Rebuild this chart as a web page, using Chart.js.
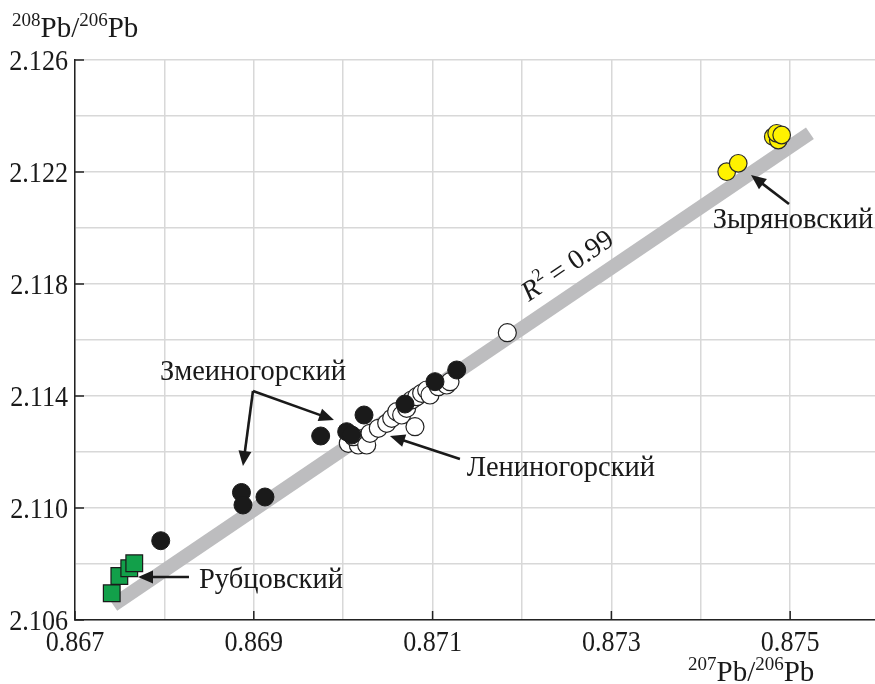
<!DOCTYPE html>
<html lang="ru">
<head>
<meta charset="utf-8">
<title>208Pb/206Pb - 207Pb/206Pb</title>
<script src="https://cdn.jsdelivr.net/npm/chart.js@4.4.1/dist/chart.umd.min.js"></script>
<style>
    body { margin: 0; background: #fff; }
    canvas { display: block; }
</style>
</head>
<body>
<canvas id="grafico" width="875" height="684"></canvas>
<script>
// Datos (x = 207Pb/206Pb, y = 208Pb/206Pb)
const rubtsovskX = [0.867411, 0.867496, 0.867607, 0.867663];
const rubtsovskY = [2.106954, 2.107571, 2.107846, 2.108025];

const zmeinogorskX = [0.867959, 0.868862, 0.868879, 0.869125, 0.869748, 0.870039, 0.870095, 0.870233, 0.870691, 0.871027, 0.871270];
const zmeinogorskY = [2.108832, 2.110554, 2.110107, 2.110393, 2.112571, 2.112725, 2.112607, 2.113321, 2.113714, 2.114511, 2.114929];

const leninogorskX = [0.870057, 0.870169, 0.870225, 0.870113, 0.870263, 0.870300, 0.870393, 0.870487, 0.870543, 0.870598, 0.870654,
    0.870710, 0.870766, 0.870822, 0.870803, 0.870878, 0.870934, 0.870971, 0.871064, 0.871158, 0.871195, 0.871836];
const leninogorskY = [2.112311, 2.112250, 2.112489, 2.112546, 2.112250, 2.112668, 2.112846, 2.113025, 2.113204, 2.113439, 2.113321,
    2.113561, 2.113857, 2.113975, 2.112904, 2.114096, 2.114214, 2.114036, 2.114332, 2.114393, 2.114511, 2.116261];

const zyryanovskX = [0.874290, 0.874419, 0.874811, 0.874867, 0.874849, 0.874905];
const zyryanovskY = [2.122011, 2.122311, 2.123261, 2.123143, 2.123382, 2.123321];

// linea de regresion (extremos)
const trendX = [0.867428, 0.875221];
const trendY = [2.106536, 2.123382];

// ejes
const xGrid = [0.867, 0.868, 0.869, 0.870, 0.871, 0.872, 0.873, 0.874, 0.875];
const yGrid = [2.106, 2.108, 2.110, 2.112, 2.114, 2.116, 2.118, 2.120, 2.122, 2.124, 2.126];
const xLabels = ["0.867", "0.869", "0.871", "0.873", "0.875"];
const yLabels = ["2.106", "2.110", "2.114", "2.118", "2.122", "2.126"];

// etiquetas de los yacimientos, con flecha (coordenadas en unidades de datos)
const notas = [
    { texto: "Зыряновский", x: 0.875031, y: 2.120357, flechas: [[0.874987, 2.120857, 0.874562, 2.121893]] },
    { texto: "Змеиногорский", x: 0.868991, y: 2.114929, flechas: [[0.868991, 2.114179, 0.868879, 2.111500], [0.868991, 2.114179, 0.869897, 2.113143]] },
    { texto: "Лениногорский", x: 0.872436, y: 2.111500, flechas: [[0.871306, 2.111750, 0.870523, 2.112571]] },
    { texto: "Рубцовский", x: 0.869192, y: 2.107500, flechas: [[0.868275, 2.107536, 0.867705, 2.107536]] }
];
const r2 = { x: 0.872500, y: 2.118700, valor: "0.99" };

const SERIF = '"Liberation Serif", "Times New Roman", serif';

function puntos(xs, ys) {
    return xs.map((x, i) => ({ x: x, y: ys[i] }));
}

function texto(ctx, str, x, y, size, align, sx, estilo) {
    ctx.save();
    ctx.font = (estilo || '') + ' ' + size + 'px ' + SERIF;
    ctx.textAlign = align;
    ctx.textBaseline = 'alphabetic';
    ctx.translate(x, y);
    ctx.scale(sx, 1);
    ctx.fillText(str, 0, 0);
    ctx.restore();
}

function flecha(ctx, x1, y1, x2, y2) {
    const ang = Math.atan2(y2 - y1, x2 - x1);
    const largo = 15, ancho = 6.5;
    ctx.save();
    ctx.strokeStyle = '#1a1a1a';
    ctx.fillStyle = '#1a1a1a';
    ctx.lineWidth = 2.6;
    ctx.beginPath();
    ctx.moveTo(x1, y1);
    ctx.lineTo(x2 - Math.cos(ang) * (largo - 2), y2 - Math.sin(ang) * (largo - 2));
    ctx.stroke();
    ctx.beginPath();
    ctx.moveTo(x2, y2);
    ctx.lineTo(x2 - Math.cos(ang) * largo - Math.sin(ang) * ancho, y2 - Math.sin(ang) * largo + Math.cos(ang) * ancho);
    ctx.lineTo(x2 - Math.cos(ang) * largo + Math.sin(ang) * ancho, y2 - Math.sin(ang) * largo - Math.cos(ang) * ancho);
    ctx.closePath();
    ctx.fill();
    ctx.restore();
}

// Plugin para marcas internas, etiquetas de ejes y anotaciones
const decoracion = {
    id: 'decoracion',
    afterDatasetsDraw(chart) {
        const ctx = chart.ctx;
        const sx = chart.scales.x, sy = chart.scales.y;
        const area = chart.chartArea;
        ctx.save();
        ctx.fillStyle = '#1a1a1a';

        // marcas hacia adentro
        ctx.strokeStyle = '#222';
        ctx.lineWidth = 1.5;
        xLabels.forEach(l => {
            const px = sx.getPixelForValue(Number(l));
            ctx.beginPath();
            ctx.moveTo(px, area.bottom);
            ctx.lineTo(px, area.bottom - 9);
            ctx.stroke();
        });
        yLabels.forEach(l => {
            const py = sy.getPixelForValue(Number(l));
            ctx.beginPath();
            ctx.moveTo(area.left, py);
            ctx.lineTo(area.left + 9, py);
            ctx.stroke();
        });

        // numeros de los ejes
        xLabels.forEach(l => {
            texto(ctx, l, sx.getPixelForValue(Number(l)), area.bottom + 31, 29, 'center', 0.9);
        });
        yLabels.forEach(l => {
            texto(ctx, l, area.left - 7, sy.getPixelForValue(Number(l)) + 10, 29, 'right', 0.9);
        });

        // titulos de ejes con superindices
        const titulo = (partes, x0, base) => {
            let x = x0;
            partes.forEach(p => {
                ctx.font = p.size + 'px ' + SERIF;
                ctx.textAlign = 'left';
                ctx.fillText(p.t, x, base + p.dy);
                x += ctx.measureText(p.t).width;
            });
        };
        titulo([{ t: '208', size: 19, dy: -11 }, { t: 'Pb/', size: 29, dy: 0 }, { t: '206', size: 19, dy: -11 }, { t: 'Pb', size: 29, dy: 0 }], 12, 37);
        titulo([{ t: '207', size: 19, dy: -11 }, { t: 'Pb/', size: 29, dy: 0 }, { t: '206', size: 19, dy: -11 }, { t: 'Pb', size: 29, dy: 0 }], 688, 681);

        // anotaciones
        notas.forEach(n => {
            texto(ctx, n.texto, sx.getPixelForValue(n.x), sy.getPixelForValue(n.y) + 10, 28.5, 'center', 1);
            n.flechas.forEach(f => {
                flecha(ctx, sx.getPixelForValue(f[0]), sy.getPixelForValue(f[1]),
                    sx.getPixelForValue(f[2]), sy.getPixelForValue(f[3]));
            });
        });

        // R^2 girado sobre la linea de regresion
        const ax = sx.getPixelForValue(trendX[0]), ay = sy.getPixelForValue(trendY[0]);
        const bx = sx.getPixelForValue(trendX[1]), by = sy.getPixelForValue(trendY[1]);
        const ang = Math.atan2(by - ay, bx - ax);
        ctx.translate(sx.getPixelForValue(r2.x), sy.getPixelForValue(r2.y));
        ctx.rotate(ang);
        ctx.font = 'italic 28px ' + SERIF;
        const wR = ctx.measureText('R').width;
        ctx.font = '18px ' + SERIF;
        const w2 = ctx.measureText('2').width;
        ctx.font = '28px ' + SERIF;
        const resto = ' = ' + r2.valor;
        const wResto = ctx.measureText(resto).width;
        let x0 = -(wR + w2 + wResto) / 2;
        ctx.textAlign = 'left';
        ctx.font = 'italic 28px ' + SERIF;
        ctx.fillText('R', x0, 10);
        ctx.font = '18px ' + SERIF;
        ctx.fillText('2', x0 + wR + 1, -2);
        ctx.font = '28px ' + SERIF;
        ctx.fillText(resto, x0 + wR + w2, 10);
        ctx.restore();
    }
};

const fijarTicks = (valores) => (scale) => {
    scale.ticks = valores.map(v => ({ value: v }));
};

new Chart(document.getElementById('grafico'), {
    type: 'scatter',
    data: {
        datasets: [
            {
                type: 'line',
                data: puntos(trendX, trendY),
                borderColor: '#bdbdbf',
                borderWidth: 14,
                borderCapStyle: 'butt',
                pointRadius: 0,
                order: 10
            },
            {
                label: 'Рубцовский',
                data: puntos(rubtsovskX, rubtsovskY),
                pointStyle: 'rect',
                pointRadius: 11.8,
                backgroundColor: '#12a04a',
                borderColor: '#1a1a1a',
                borderWidth: 1.2,
                order: 1
            },
            {
                label: 'Змеиногорский',
                data: puntos(zmeinogorskX, zmeinogorskY),
                pointRadius: 9,
                backgroundColor: '#1a1a1a',
                borderColor: '#1a1a1a',
                borderWidth: 1,
                order: 1
            },
            {
                label: 'Лениногорский',
                data: puntos(leninogorskX, leninogorskY),
                pointRadius: 9,
                backgroundColor: '#ffffff',
                borderColor: '#222',
                borderWidth: 1.2,
                order: 2
            },
            {
                label: 'Зыряновский',
                data: puntos(zyryanovskX, zyryanovskY),
                pointRadius: 8.8,
                backgroundColor: '#fff200',
                borderColor: '#2a2a2a',
                borderWidth: 1.2,
                order: 1
            }
        ]
    },
    options: {
        responsive: false,
        animation: false,
        layout: { autoPadding: false, padding: { left: 75, top: 60, right: 0, bottom: 64 } },
        plugins: {
            legend: { display: false },
            tooltip: { enabled: false }
        },
        scales: {
            x: {
                type: 'linear',
                min: 0.867,
                max: 0.875949,
                afterBuildTicks: fijarTicks(xGrid),
                ticks: { display: false },
                grid: { color: '#d8d8d8', lineWidth: 1.5, drawTicks: false },
                border: { color: '#222', width: 1.5 }
            },
            y: {
                type: 'linear',
                min: 2.106,
                max: 2.126,
                afterBuildTicks: fijarTicks(yGrid),
                ticks: { display: false },
                grid: { color: '#d8d8d8', lineWidth: 1.5, drawTicks: false },
                border: { color: '#222', width: 1.5 }
            }
        }
    },
    plugins: [decoracion]
});
</script>
</body>
</html>
